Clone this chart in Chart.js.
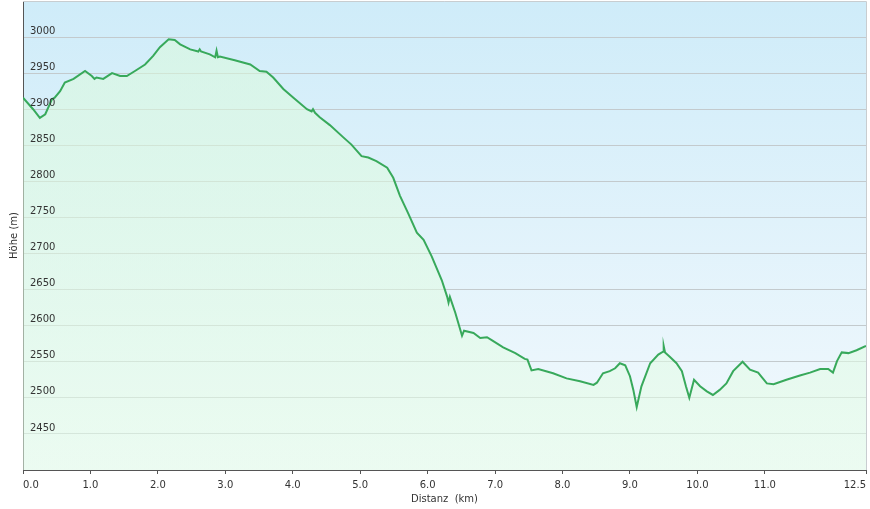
<!DOCTYPE html>
<html>
<head>
<meta charset="utf-8">
<script src="https://cdn.jsdelivr.net/npm/chart.js@4"></script>
<style>
  html, body { margin: 0; padding: 0; background: #fff; }
  #wrap { width: 870px; height: 509px; }
</style>
</head>
<body>
<div id="wrap"><canvas id="profileChart" width="870" height="509"></canvas></div>
<script>
const distKm = [
  0.00, 0.15, 0.25, 0.33, 0.43, 0.47, 0.55, 0.62, 0.75, 0.92,
  1.02, 1.06, 1.09, 1.19, 1.32, 1.44, 1.54, 1.66, 1.81, 1.93,
  2.03, 2.16, 2.25, 2.33, 2.48, 2.60, 2.62, 2.64, 2.77, 2.85,
  2.87, 2.89, 2.92, 3.14, 3.37, 3.51, 3.61, 3.71, 3.86, 4.01,
  4.21, 4.28, 4.30, 4.33, 4.40, 4.55, 4.75, 4.87, 5.02, 5.12,
  5.24, 5.40, 5.49, 5.59, 5.71, 5.84, 5.94, 6.06, 6.21, 6.29,
  6.31, 6.33, 6.41, 6.51, 6.54, 6.68, 6.78, 6.88, 6.95, 7.12,
  7.30, 7.44, 7.48, 7.54, 7.64, 7.86, 8.06, 8.26, 8.46, 8.51,
  8.60, 8.70, 8.78, 8.85, 8.93, 9.00, 9.05, 9.10, 9.17, 9.30,
  9.42, 9.49, 9.50, 9.52, 9.59, 9.69, 9.77, 9.83, 9.88, 9.95,
  10.04, 10.14, 10.23, 10.33, 10.43, 10.53, 10.67, 10.78, 10.90, 11.03,
  11.13, 11.32, 11.52, 11.67, 11.82, 11.94, 12.01, 12.07, 12.14, 12.24,
  12.36, 12.50
];
const hoeheM = [
  2916, 2900, 2888, 2893, 2914, 2916, 2925, 2937, 2942, 2953,
  2946, 2942, 2944, 2942, 2950, 2946, 2946, 2953, 2962, 2974,
  2986, 2997, 2996, 2990, 2983, 2980, 2983, 2980, 2976, 2972,
  2981, 2972, 2973, 2968, 2962, 2953, 2952, 2944, 2928, 2916,
  2900, 2897, 2900, 2895, 2889, 2878, 2861, 2851, 2835, 2833,
  2828, 2819, 2805, 2780, 2756, 2729, 2719, 2696, 2663, 2640,
  2632, 2640, 2618, 2586, 2593, 2590, 2583, 2584, 2580, 2570,
  2562, 2554, 2553, 2538, 2540, 2534, 2527, 2523, 2518, 2521,
  2534, 2537, 2541, 2548, 2545, 2530, 2511, 2487, 2516, 2548,
  2560, 2564, 2572, 2563, 2557, 2548, 2537, 2516, 2500, 2525,
  2516, 2509, 2504, 2511, 2520, 2537, 2550, 2539, 2535, 2520,
  2519, 2525, 2531, 2535, 2540, 2540, 2535, 2551, 2563, 2562,
  2566, 2572
];
const xTicks = [0, 1, 2, 3, 4, 5, 6, 7, 8, 9, 10, 11, 12.5];
const yTicks = [2450, 2500, 2550, 2600, 2650, 2700, 2750, 2800, 2850, 2900, 2950, 3000];

const points = distKm.map((d, i) => ({ x: d, y: hoeheM[i] }));

// Hintergrund und Rahmen des Plotbereichs
const plotBg = {
  id: 'plotBg',
  beforeDraw(chart) {
    const { ctx, chartArea: a } = chart;
    if (!a) return;
    const g = ctx.createLinearGradient(0, a.top, 0, a.bottom);
    g.addColorStop(0, '#cfecf9');
    g.addColorStop(1, '#f3f9fd');
    ctx.save();
    ctx.fillStyle = g;
    ctx.fillRect(a.left, a.top, a.right - a.left, a.bottom - a.top);
    ctx.restore();
  },
  afterDraw(chart) {
    const { ctx, chartArea: a } = chart;
    ctx.save();
    ctx.strokeStyle = '#c8cdd0';
    ctx.lineWidth = 1;
    ctx.beginPath();
    ctx.moveTo(a.left, a.top + 0.5);
    ctx.lineTo(a.right + 0.5, a.top + 0.5);
    ctx.lineTo(a.right + 0.5, a.bottom);
    ctx.stroke();
    ctx.restore();
  }
};

const fillGradient = (context) => {
  const { chart } = context;
  const a = chart.chartArea;
  if (!a) return 'rgba(222,250,224,0.5)';
  const g = chart.ctx.createLinearGradient(0, a.top, 0, a.bottom);
  g.addColorStop(0, 'rgba(218,250,218,0.55)');
  g.addColorStop(1, 'rgba(229,253,231,0.55)');
  return g;
};

const fontFam = '"DejaVu Sans", Verdana, sans-serif';

new Chart(document.getElementById('profileChart'), {
  type: 'line',
  data: {
    datasets: [{
      data: points,
      borderColor: '#38a95b',
      borderWidth: 2,
      pointRadius: 0,
      tension: 0,
      fill: 'start',
      backgroundColor: fillGradient
    }]
  },
  options: {
    responsive: false,
    animation: false,
    layout: { padding: { top: 1, right: 4, left: 0, bottom: 0 } },
    plugins: { legend: { display: false }, tooltip: { enabled: false } },
    scales: {
      x: {
        type: 'linear',
        min: 0,
        max: 12.5,
        afterBuildTicks: s => { s.ticks = xTicks.map(v => ({ value: v })); },
        afterFit: s => { s.paddingLeft = 0; s.paddingRight = 0; s.height = 39; },
        grid: { drawOnChartArea: false, drawTicks: true, tickLength: 4, color: '#555' },
        border: { color: '#555', width: 1 },
        ticks: {
          align: 'inner',
          padding: 5,
          maxRotation: 0,
          color: '#333',
          font: { family: fontFam, size: 10 },
          callback: v => Number(v).toFixed(1)
        },
        title: {
          display: true,
          text: 'Distanz  (km)',
          color: '#333',
          font: { family: fontFam, size: 10 },
          padding: { top: 1, bottom: 4 }
        }
      },
      y: {
        min: 2400,
        max: 3050,
        afterBuildTicks: s => { s.ticks = yTicks.map(v => ({ value: v })); },
        afterFit: s => { s.paddingTop = 0; s.paddingBottom = 0; s.width = 23; },
        grid: { color: '#c3cacd', lineWidth: 1, drawTicks: false },
        border: { color: '#555', width: 1 },
        ticks: {
          mirror: true,
          z: 1,
          padding: 7,
          labelOffset: -6,
          color: '#333',
          font: { family: fontFam, size: 10 },
          callback: v => String(v)
        },
        title: {
          display: true,
          text: 'Höhe (m)',
          color: '#333',
          font: { family: fontFam, size: 10 },
          padding: { top: 8, bottom: 4 }
        }
      }
    }
  },
  plugins: [plotBg]
});
</script>
</body>
</html>
